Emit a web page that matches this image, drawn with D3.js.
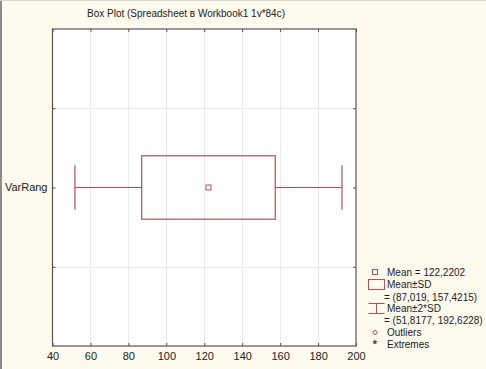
<!DOCTYPE html>
<html><head><meta charset="utf-8">
<script src="https://cdn.jsdelivr.net/npm/d3@7"></script>
<style>
html,body{margin:0;padding:0;background:#fffaee;}
svg{display:block;font-family:Arial,"Liberation Sans",sans-serif;}
</style></head><body>
<svg id="c" width="486" height="369"></svg>
<script>
const categories = ["VarRang"];
const means = [122.2202];
const sdLow = [87.019];
const sdHigh = [157.4215];
const sd2Low = [51.8177];
const sd2High = [192.6228];
const xTicks = [40, 60, 80, 100, 120, 140, 160, 180, 200];
const legendLabels = ["Mean = 122,2202", "Mean±SD", "= (87,019, 157,4215)", "Mean±2*SD", "= (51,8177, 192,6228)", "Outliers", "Extremes"];
const title = "Box Plot (Spreadsheet в Workbook1 1v*84c)";

const svg = d3.select("#c");
const L = 52.5, R = 356, T = 29, B = 346;
const boxColor = "#b0505c";
const x = d3.scaleLinear().domain([40, 200]).range([L, R]);
const y = d3.scaleLinear().domain([0, 2]).range([B, T]);
const catPos = categories.map((c, i) => i + 1);

// window borders
svg.append("rect").attr("x",0).attr("y",0).attr("width",486).attr("height",369).attr("fill","#fffaee");
svg.append("line").attr("x1",1).attr("x2",1).attr("y1",0).attr("y2",369).attr("stroke","#8c8c8c").attr("stroke-width",2);
svg.append("line").attr("x1",0).attr("x2",486).attr("y1",0.5).attr("y2",0.5).attr("stroke","#d8d4c8").attr("stroke-width",1);

// plot area
svg.append("rect").attr("x",L).attr("y",T).attr("width",R-L).attr("height",B-T).attr("fill","#ffffff");

// gridlines
svg.append("g").selectAll("line").data(xTicks.slice(1,-1)).join("line")
  .attr("x1",d=>Math.round(x(d))+0.5).attr("x2",d=>Math.round(x(d))+0.5)
  .attr("y1",T).attr("y2",B).attr("stroke","#ebebeb").attr("stroke-width",1);
const yGrid = [0.5, 1.5];
svg.append("g").selectAll("line").data(yGrid).join("line")
  .attr("x1",L).attr("x2",R).attr("y1",d=>Math.round(y(d))+0.5).attr("y2",d=>Math.round(y(d))+0.5)
  .attr("stroke","#ebebeb").attr("stroke-width",1);

// axes with inward ticks
const xAxisB = d3.axisBottom(x).tickValues(xTicks).tickSize(0).tickPadding(6).tickFormat(d3.format("d"));
const gx = svg.append("g").attr("transform",`translate(0,${B})`).call(xAxisB);
gx.select(".domain").remove();
gx.selectAll("text").attr("font-size","11px").attr("fill","#222").attr("font-family","Arial,'Liberation Sans',sans-serif");

const xAxisT = d3.axisTop(x).tickValues(xTicks).tickSize(-3).tickFormat("");
const gxt = svg.append("g").attr("transform",`translate(0,${T})`).call(xAxisT);
gxt.select(".domain").remove();
gxt.selectAll("line").attr("stroke","#555");
const gxb = svg.append("g").attr("transform",`translate(0,${B})`).call(d3.axisBottom(x).tickValues(xTicks).tickSize(-3).tickFormat(""));
gxb.select(".domain").remove();
gxb.selectAll("line").attr("stroke","#555");

const yTicks = [0.5, 1, 1.5];
const gyl = svg.append("g").attr("transform",`translate(${L},0)`).call(d3.axisLeft(y).tickValues(yTicks).tickSize(-3).tickFormat(""));
gyl.select(".domain").remove();
gyl.selectAll("line").attr("stroke","#555");
const gyr = svg.append("g").attr("transform",`translate(${R},0)`).call(d3.axisRight(y).tickValues(yTicks).tickSize(-3).tickFormat(""));
gyr.select(".domain").remove();
gyr.selectAll("line").attr("stroke","#555");

// category labels
svg.append("g").selectAll("text").data(categories).join("text")
  .attr("x",L-5).attr("y",(d,i)=>y(catPos[i])).attr("dy","0.35em").attr("text-anchor","end")
  .attr("font-size","11px").attr("fill","#222").text(d=>d);

// frame
svg.append("rect").attr("x",L).attr("y",T).attr("width",R-L).attr("height",B-T)
  .attr("fill","none").attr("stroke","#555").attr("stroke-width",1.2);

// boxes
const bh = 0.4, ch = 0.28;
const g = svg.append("g");
categories.forEach((c, i) => {
  const cy = y(catPos[i]);
  g.append("line").attr("x1",x(sd2Low[i])).attr("x2",x(sdLow[i])).attr("y1",cy).attr("y2",cy).attr("stroke",boxColor).attr("stroke-width",1.2);
  g.append("line").attr("x1",x(sdHigh[i])).attr("x2",x(sd2High[i])).attr("y1",cy).attr("y2",cy).attr("stroke",boxColor).attr("stroke-width",1.2);
  [sd2Low[i], sd2High[i]].forEach(v => {
    g.append("line").attr("x1",x(v)).attr("x2",x(v)).attr("y1",y(catPos[i]+ch/2)).attr("y2",y(catPos[i]-ch/2)).attr("stroke",boxColor).attr("stroke-width",1.2);
  });
  g.append("rect").attr("x",x(sdLow[i])).attr("y",y(catPos[i]+bh/2))
    .attr("width",x(sdHigh[i])-x(sdLow[i])).attr("height",y(catPos[i]-bh/2)-y(catPos[i]+bh/2))
    .attr("fill","none").attr("stroke",boxColor).attr("stroke-width",1.2);
  g.append("rect").attr("x",x(means[i])-2.5).attr("y",cy-2.5).attr("width",5).attr("height",5)
    .attr("fill","#fff").attr("stroke",boxColor).attr("stroke-width",1);
});

// title
svg.append("text").attr("x",186).attr("y",17).attr("text-anchor","middle")
  .attr("font-size","10px").attr("fill","#222").text(title);

// legend
const lg = svg.append("g").attr("font-size","10px").attr("fill","#222");
const ly = [272, 284, 297, 308, 320, 332, 344];
const lx = [387, 387, 384, 387, 384, 387, 387];
legendLabels.forEach((t, i) => {
  lg.append("text").attr("x",lx[i]).attr("y",ly[i]).attr("dy","0.35em").attr("fill","#222").text(t);
});
lg.append("rect").attr("x",372.5).attr("y",269.5).attr("width",5).attr("height",5).attr("fill","none").attr("stroke",boxColor);
lg.append("rect").attr("x",368.5).attr("y",279.5).attr("width",16).attr("height",10).attr("fill","none").attr("stroke",boxColor);
lg.append("path").attr("d","M368.5,303.5H384.5M376.5,303.5V313.5M368.5,313.5H384.5").attr("fill","none").attr("stroke",boxColor);
lg.append("circle").attr("cx",375).attr("cy",332.5).attr("r",2).attr("fill","none").attr("stroke",boxColor);
lg.append("text").attr("x",375).attr("y",348).attr("text-anchor","middle").attr("font-size","11px").attr("fill","#8a1020").attr("font-weight","bold").text("*");
</script>
</body></html>
